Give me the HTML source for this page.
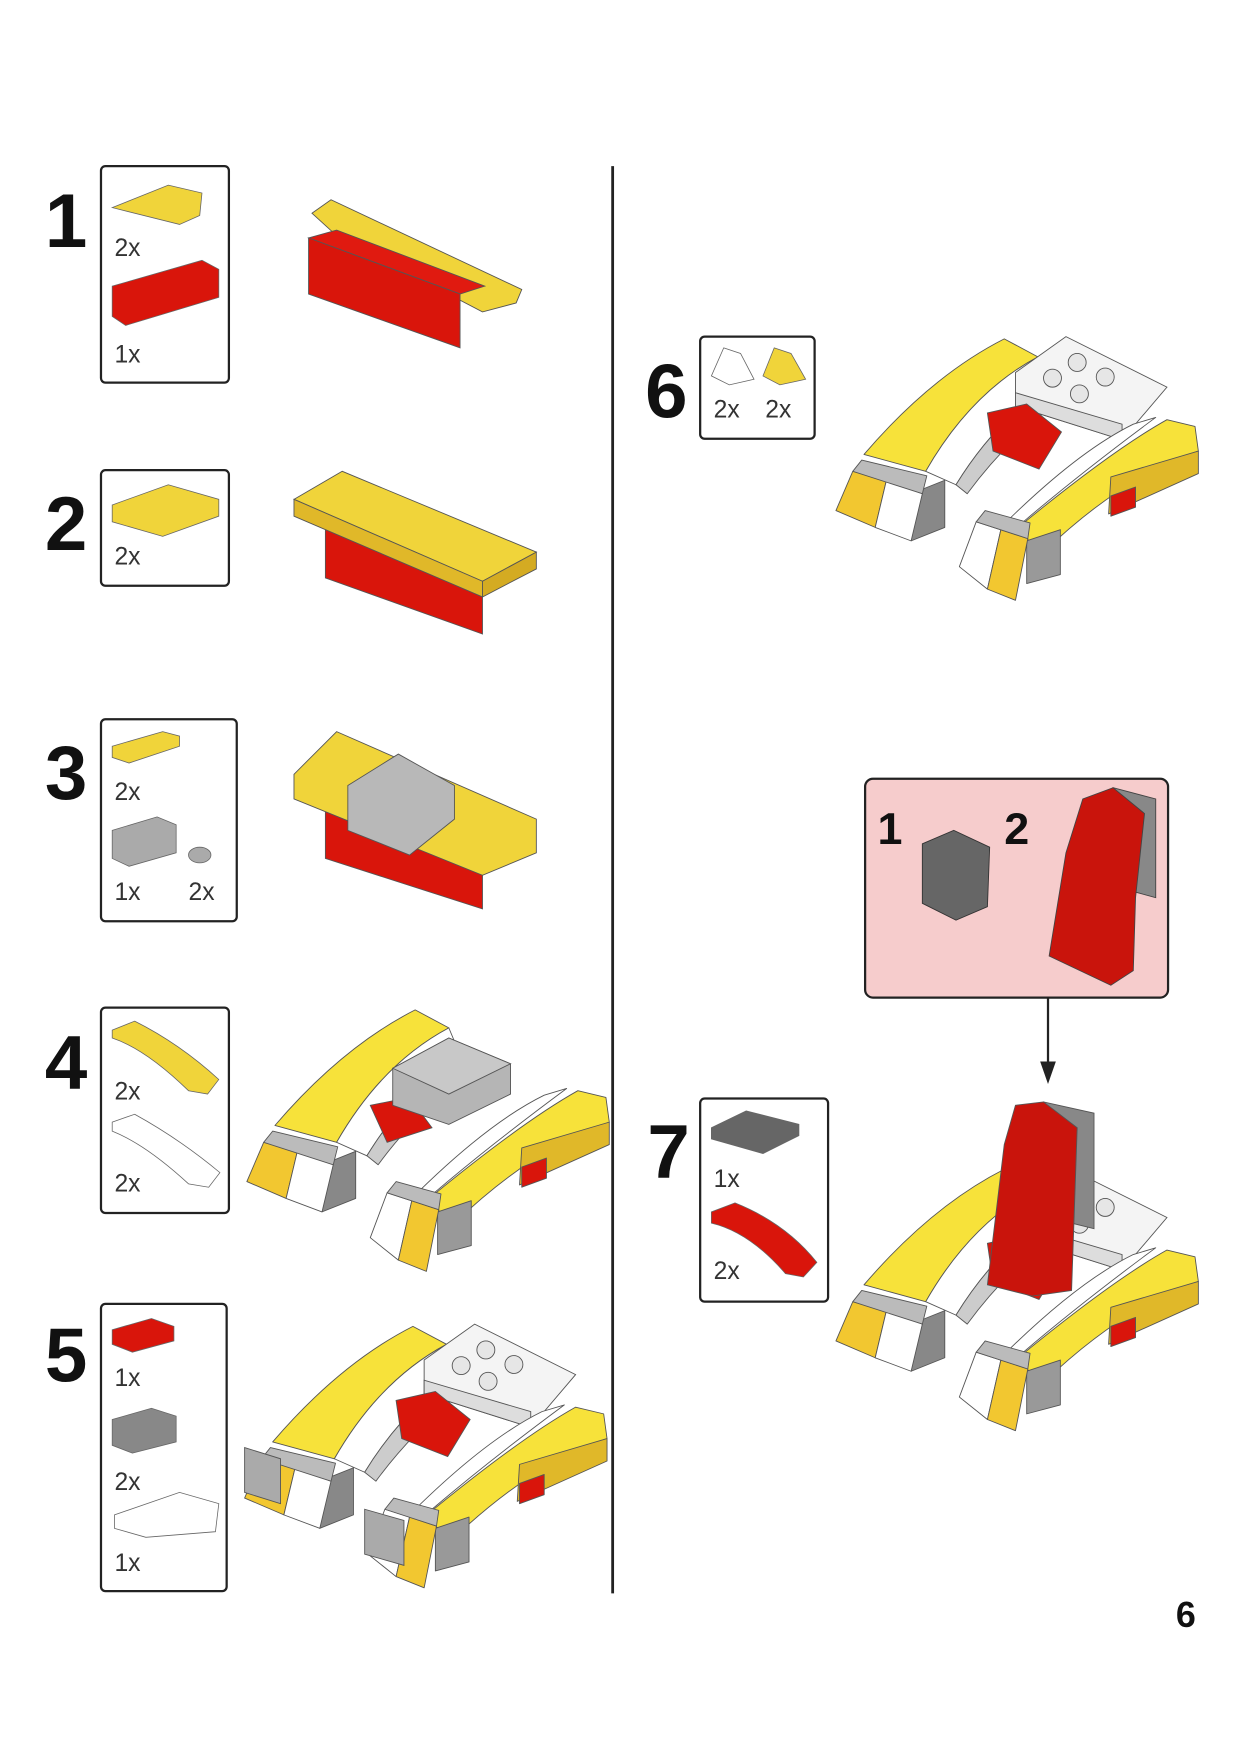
<!DOCTYPE html>
<html><head><meta charset="utf-8"><style>
html,body{margin:0;padding:0;background:#fff;}
svg{display:block}
text{font-family:"Liberation Sans",sans-serif;}
</style></head><body>
<svg width="1241" height="1755" viewBox="0 0 1106 1564" preserveAspectRatio="none" xmlns="http://www.w3.org/2000/svg">
<defs>
<g id="arms" stroke="#555" stroke-width="0.8" stroke-linejoin="round">
  <path d="M770,405 Q830,335 895,302 L925,318 Q865,350 825,420 Z" fill="#f7e23a"/>
  <path d="M825,420 Q865,350 925,318 L935,342 Q885,378 852,432 Z" fill="#fff"/>
  <path d="M852,432 Q885,378 935,342 L940,360 Q895,395 862,440 Z" fill="#ccc"/>
  <polygon points="812,440 842,428 842,470 812,482" fill="#888"/>
  <polygon points="745,455 760,420 790,428 780,470" fill="#f2c730"/>
  <polygon points="780,470 790,428 822,440 812,482" fill="#fff"/>
  <polygon points="760,420 768,410 826,424 822,440" fill="#bbb"/>
</g>
<g id="plate" stroke="#555" stroke-width="0.8">
  <polygon points="905,332 950,300 1040,345 1000,392 905,362" fill="#f4f4f4"/>
  <polygon points="905,362 1000,392 1000,378 905,350" fill="#ddd"/>
  <circle cx="960" cy="323" r="8" fill="#e6e6e6"/><circle cx="985" cy="336" r="8" fill="#e6e6e6"/>
  <circle cx="938" cy="337" r="8" fill="#e6e6e6"/><circle cx="962" cy="351" r="8" fill="#e6e6e6"/>
  <polygon points="880,368 915,360 946,385 926,418 885,402" fill="#d9150b"/>
</g>
<g id="right" stroke="#555" stroke-width="0.8" stroke-linejoin="round">
  <path d="M880,482 Q955,405 1010,378 L1030,372 Q965,420 912,465 Z" fill="#fff"/>
  <path d="M905,472 Q990,402 1040,374 L1065,380 L1068,402 Q1000,425 930,492 Z" fill="#f7e23a"/>
  <polygon points="990,425 1068,402 1068,422 988,458" fill="#e0b829"/>
  <polygon points="990,442 1012,434 1012,452 990,460" fill="#d9150b"/>
  <polygon points="915,482 945,472 945,512 915,520" fill="#999"/>
  <polygon points="855,505 870,465 892,472 880,525" fill="#fff"/>
  <polygon points="880,525 892,472 916,480 905,535" fill="#f2c730"/>
  <polygon points="870,465 878,455 918,466 916,480" fill="#bbb"/>
</g>
</defs>

<line x1="546" y1="148" x2="546" y2="1420" stroke="#222" stroke-width="2.5"/>

<g font-weight="bold" font-size="68" fill="#111">
<text x="40" y="220">1</text><text x="40" y="490">2</text><text x="40" y="712">3</text>
<text x="40" y="970">4</text><text x="40" y="1231">5</text><text x="575" y="372">6</text><text x="577" y="1050">7</text>
</g>

<g fill="none" stroke="#222" stroke-width="2">
<rect x="90" y="148" width="114" height="193" rx="4"/>
<rect x="90" y="419" width="114" height="103" rx="4"/>
<rect x="90" y="641" width="121" height="180" rx="4"/>
<rect x="90" y="898" width="114" height="183" rx="4"/>
<rect x="90" y="1162" width="112" height="256" rx="4"/>
<rect x="624" y="300" width="102" height="91" rx="4"/>
<rect x="624" y="979" width="114" height="181" rx="4"/>
</g>

<g font-size="22" fill="#333">
<text x="102" y="228">2x</text><text x="102" y="323">1x</text>
<text x="102" y="503">2x</text>
<text x="102" y="713">2x</text><text x="102" y="802">1x</text><text x="168" y="802">2x</text>
<text x="102" y="980">2x</text><text x="102" y="1062">2x</text>
<text x="102" y="1235">1x</text><text x="102" y="1328">2x</text><text x="102" y="1400">1x</text>
<text x="636" y="372">2x</text><text x="682" y="372">2x</text>
<text x="636" y="1058">1x</text><text x="636" y="1140">2x</text>
</g>

<g stroke="#666" stroke-width="0.7">
<polygon points="100,185 150,165 180,172 178,192 160,200" fill="#f0d43a"/>
<polygon points="100,255 180,232 195,240 195,265 112,290 100,282" fill="#d9150b"/>
<polygon points="100,450 150,432 195,445 195,460 145,478 100,465" fill="#f0d43a"/>
<polygon points="100,665 145,652 160,656 160,665 115,680 100,675" fill="#f0d43a"/>
<polygon points="100,740 140,728 157,735 157,760 115,772 100,765" fill="#aaa"/>
<ellipse cx="178" cy="762" rx="10" ry="7" fill="#aaa"/>
<path d="M100,918 L120,910 Q160,930 195,962 L185,975 L168,972 Q130,935 100,925 Z" fill="#f0d43a"/>
<path d="M100,1000 L120,993 Q160,1015 196,1045 L186,1058 L168,1055 Q130,1020 100,1008 Z" fill="#fff"/>
<polygon points="100,1185 135,1175 155,1182 155,1195 118,1205 100,1198" fill="#d9150b"/>
<polygon points="100,1265 135,1255 157,1262 157,1285 118,1295 100,1288" fill="#888"/>
<polygon points="102,1350 160,1330 195,1340 192,1365 130,1370 102,1362" fill="#fff"/>
<polygon points="634,335 645,310 660,315 672,338 650,343" fill="#fff"/>
<polygon points="680,335 690,310 705,315 718,338 695,343" fill="#f0d43a"/>
<polygon points="634,1005 665,990 712,1002 712,1012 680,1028 634,1015" fill="#666"/>
<path d="M634,1080 L655,1072 Q700,1090 728,1125 L716,1138 L700,1135 Q668,1098 634,1090 Z" fill="#d9150b"/>
</g>

<g stroke="#555" stroke-width="0.8">
<polygon points="278,190 295,178 465,258 460,270 430,278 300,210" fill="#f0d43a"/>
<polygon points="275,212 300,205 432,255 410,262" fill="#e01a10"/>
<polygon points="275,212 410,262 410,310 275,262" fill="#d9150b"/>
</g>
<g stroke="#555" stroke-width="0.8">
<polygon points="290,470 430,518 430,565 290,515" fill="#d9150b"/>
<polygon points="262,445 305,420 478,492 430,518" fill="#f0d43a"/>
<polygon points="262,445 430,518 430,532 262,460" fill="#e0b829"/>
<polygon points="430,518 478,492 478,507 430,532" fill="#d4ab22"/>
</g>
<g stroke="#555" stroke-width="0.8">
<polygon points="290,720 430,770 430,810 290,765" fill="#d9150b"/>
<polygon points="262,690 300,652 478,730 478,760 430,780 262,712" fill="#f0d43a"/>
<polygon points="310,700 355,672 405,700 405,730 365,762 310,740" fill="#b8b8b8"/>
</g>

<!-- step 4 -->
<use href="#arms" transform="translate(-525,598)"/>
<g stroke="#555" stroke-width="0.8">
<polygon points="330,985 365,978 385,1005 345,1018" fill="#d9150b"/>
<polygon points="350,952 400,925 455,948 455,975 400,1002 350,985" fill="#b5b5b5"/>
<polygon points="350,952 400,925 455,948 400,975" fill="#c8c8c8"/>
</g>
<use href="#right" transform="translate(-525,598)"/>
<!-- step 5 -->
<use href="#arms" transform="translate(-527,880)"/>
<use href="#plate" transform="translate(-527,880)"/>
<use href="#right" transform="translate(-527,880)"/>
<polygon points="218,1290 250,1300 250,1340 218,1330" fill="#aaa" stroke="#555" stroke-width="0.8"/>
<polygon points="325,1345 360,1355 360,1395 325,1385" fill="#aaa" stroke="#555" stroke-width="0.8"/>
<!-- step 6 -->
<use href="#arms"/><use href="#plate"/><use href="#right"/>
<!-- step 7 -->
<use href="#arms" transform="translate(0,740)"/><use href="#plate" transform="translate(0,740)"/><use href="#right" transform="translate(0,740)"/>
<g stroke="#555" stroke-width="0.8">
<polygon points="930,982 975,992 975,1095 955,1090" fill="#888"/>
<polygon points="880,1145 895,1020 905,985 930,982 960,1005 955,1150 920,1155" fill="#c9140c"/>
</g>

<rect x="771" y="694" width="270" height="195" rx="7" fill="#f6cccc" stroke="#222" stroke-width="2"/>
<text x="782" y="752" font-size="40" font-weight="bold" fill="#111">1</text>
<text x="895" y="752" font-size="40" font-weight="bold" fill="#111">2</text>
<polygon points="822,752 850,740 882,755 880,808 852,820 822,805" fill="#666" stroke="#333" stroke-width="0.8"/>
<polygon points="992,702 1030,712 1030,800 1012,795" fill="#888" stroke="#444" stroke-width="0.8"/>
<polygon points="935,852 950,760 965,712 992,702 1020,725 1012,800 1010,865 990,878" fill="#c9140c" stroke="#444" stroke-width="0.8"/>
<line x1="934" y1="889" x2="934" y2="948" stroke="#222" stroke-width="2"/>
<polygon points="927,946 941,946 934,966" fill="#222"/>

<text x="1048" y="1450" font-size="32" font-weight="bold" fill="#111">6</text>
</svg>
</body></html>
